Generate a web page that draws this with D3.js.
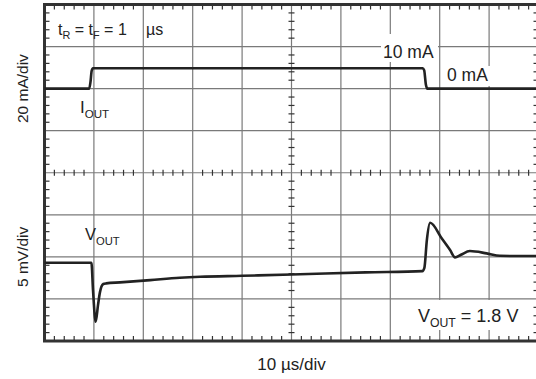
<!DOCTYPE html>
<html>
<head>
<meta charset="utf-8">
<script src="https://cdn.jsdelivr.net/npm/d3@7/dist/d3.min.js"></script>
<style>
  html, body { margin: 0; padding: 0; background: #fff; }
  svg { display: block; font-family: "Liberation Sans", Arial, Helvetica, sans-serif; }
</style>
</head>
<body>
<div id="chart"></div>
<script>
// scope shot data: time in microseconds, I_OUT in mA, V_OUT deviation in mV (0 = centre line)
const ioutTimeUs = [0, 9.05, 9.3, 9.55, 9.8, 76.55, 76.85, 77.2, 77.5, 100];
const ioutMA = [0, 0, 3, 8.5, 9.7, 9.7, 8.8, 2, 0, 0];

const voutTimeUs = [0, 9.5, 9.82, 10.36, 10.83, 11.23, 11.9, 12.5, 15.3, 21.4, 27.4, 31.5, 40, 50, 65,
  76.5, 76.9, 77.4, 78.05, 80.5, 82.1, 83.1, 84.3, 86.1, 89.5, 92.2, 96.3, 100];
const voutMV = [-10.7, -10.7, -13.95, -17.72, -15.73, -14.19, -13.23, -13.15, -13.03, -12.76, -12.49, -12.37, -12.25, -12.1, -11.84,
  -11.69, -11.3, -8.0, -5.95, -7.88, -9.19, -10.06, -9.75, -9.31, -9.58, -9.87, -9.9, -9.9];

const xDivs = 10;
const yDivs = 8;

const width = 536, height = 379;
const plotLeft = 44.5, plotRight = 538.5, plotTop = 4.5, plotBottom = 341;

const svg = d3.select('#chart').append('svg')
  .attr('width', width)
  .attr('height', height);

// scales
const x = d3.scaleLinear().domain([0, 100]).range([plotLeft, plotRight]);
const xDiv = d3.scaleLinear().domain([0, xDivs]).range([plotLeft, plotRight]);
const yDiv = d3.scaleLinear().domain([0, yDivs]).range([plotTop, plotBottom]);
// 20 mA/div, 0 mA sits two divisions below the top
const yI = d3.scaleLinear().domain([40, -120]).range([plotTop, plotBottom]);
// 5 mV/div around the centre line
const yV = d3.scaleLinear().domain([20, -20]).range([plotTop, plotBottom]);

const gridColor = '#7a7a7a';
const frameColor = '#333';

// grid lines
const grid = svg.append('g').attr('stroke', gridColor).attr('stroke-width', 1.2);
grid.selectAll('.vg')
  .data(d3.range(1, xDivs))
  .enter().append('line')
  .attr('x1', d => xDiv(d)).attr('x2', d => xDiv(d))
  .attr('y1', plotTop).attr('y2', plotBottom);
grid.selectAll('.hg')
  .data(d3.range(1, yDivs))
  .enter().append('line')
  .attr('x1', plotLeft).attr('x2', plotRight)
  .attr('y1', d => yDiv(d)).attr('y2', d => yDiv(d));

// minor ticks (5 per division)
const minorX = d3.range(0, xDivs * 5 + 1).map(d => d / 5).filter(d => d % 1 !== 0);
const minorY = d3.range(0, yDivs * 5 + 1).map(d => d / 5).filter(d => d % 1 !== 0);
const tickLen = 5;

const ticks = svg.append('g').attr('stroke', frameColor).attr('stroke-width', 1.2);
// top & bottom borders
ticks.selectAll('.tt').data(minorX).enter().append('line')
  .attr('x1', d => xDiv(d)).attr('x2', d => xDiv(d))
  .attr('y1', plotTop).attr('y2', plotTop + tickLen);
ticks.selectAll('.tb').data(minorX).enter().append('line')
  .attr('x1', d => xDiv(d)).attr('x2', d => xDiv(d))
  .attr('y1', plotBottom).attr('y2', plotBottom - tickLen);
// left & right borders
ticks.selectAll('.tl').data(minorY).enter().append('line')
  .attr('x1', plotLeft).attr('x2', plotLeft + tickLen)
  .attr('y1', d => yDiv(d)).attr('y2', d => yDiv(d));
ticks.selectAll('.tr').data(minorY).enter().append('line')
  .attr('x1', plotRight).attr('x2', plotRight - tickLen)
  .attr('y1', d => yDiv(d)).attr('y2', d => yDiv(d));
// centre cross axes
const cx = xDiv(xDivs / 2), cy = yDiv(yDivs / 2);
ticks.selectAll('.tch').data(minorX).enter().append('line')
  .attr('x1', d => xDiv(d)).attr('x2', d => xDiv(d))
  .attr('y1', cy - 3).attr('y2', cy + 3);
ticks.selectAll('.tcv').data(minorY).enter().append('line')
  .attr('x1', cx - 3).attr('x2', cx + 3)
  .attr('y1', d => yDiv(d)).attr('y2', d => yDiv(d));

// frame
svg.append('rect')
  .attr('x', plotLeft).attr('y', plotTop)
  .attr('width', plotRight - plotLeft).attr('height', plotBottom - plotTop)
  .attr('fill', 'none')
  .attr('stroke', frameColor)
  .attr('stroke-width', 3);

// white boxes behind annotations
const boxes = [
  [381, 34, 57, 28],
  [445, 66, 50, 20],
  [413, 300, 115, 30]
];
svg.selectAll('.box').data(boxes).enter().append('rect')
  .attr('x', d => d[0]).attr('y', d => d[1])
  .attr('width', d => d[2]).attr('height', d => d[3])
  .attr('fill', '#fff');

// traces
const lineI = d3.line()
  .x((d, i) => x(ioutTimeUs[i]))
  .y(d => yI(d))
  .curve(d3.curveMonotoneX);
const lineV = d3.line()
  .x((d, i) => x(voutTimeUs[i]))
  .y(d => yV(d))
  .curve(d3.curveMonotoneX);

svg.append('path')
  .attr('d', lineI(ioutMA))
  .attr('fill', 'none')
  .attr('stroke', '#222')
  .attr('stroke-width', 2.6)
  .attr('stroke-linejoin', 'round');

svg.append('path')
  .attr('d', lineV(voutMV))
  .attr('fill', 'none')
  .attr('stroke', '#222')
  .attr('stroke-width', 2.6)
  .attr('stroke-linejoin', 'round');

// labels
const txtColor = '#222';

function subText(g, xPos, yPos, size, parts) {
  const t = g.append('text')
    .attr('x', xPos).attr('y', yPos)
    .attr('font-size', size)
    .attr('fill', txtColor);
  parts.forEach(p => {
    const s = t.append('tspan')
      .attr('font-size', p.sub ? size * 0.68 : size)
      .attr('dy', p.dy || 0)
      .text(p.text);
    if (p.x !== undefined) s.attr('x', p.x);
  });
  return t;
}

subText(svg, 58, 35, 16, [
  {text: 't'}, {text: 'R', sub: true, dy: 3.5},
  {text: ' = t', dy: -3.5}, {text: 'F', sub: true, dy: 3.5},
  {text: ' = 1', dy: -3.5},
  {text: 'µs', x: 146}
]);

svg.append('text')
  .attr('x', 383).attr('y', 57.5)
  .attr('font-size', 17.5)
  .attr('fill', txtColor)
  .text('10 mA');

svg.append('text')
  .attr('x', 447).attr('y', 81)
  .attr('font-size', 17.5)
  .attr('fill', txtColor)
  .text('0 mA');

subText(svg, 80, 113, 17, [
  {text: 'I'}, {text: 'OUT', sub: true, dy: 4.5}
]);

subText(svg, 85, 240, 16.5, [
  {text: 'V'}, {text: 'OUT', sub: true, dy: 4.5}
]);

subText(svg, 418, 322, 18, [
  {text: 'V'}, {text: 'OUT', sub: true, dy: 4.5},
  {text: ' = 1.8 V', dy: -4.5}
]);

svg.append('text')
  .attr('transform', 'translate(28,' + yDiv(2) + ') rotate(-90)')
  .attr('text-anchor', 'middle')
  .attr('font-size', 15.5)
  .attr('fill', txtColor)
  .text('20 mA/div');

svg.append('text')
  .attr('transform', 'translate(28,' + yDiv(6) + ') rotate(-90)')
  .attr('text-anchor', 'middle')
  .attr('font-size', 15.5)
  .attr('fill', txtColor)
  .text('5 mV/div');

svg.append('text')
  .attr('x', cx).attr('y', 370)
  .attr('text-anchor', 'middle')
  .attr('font-size', 17)
  .attr('fill', txtColor)
  .text('10 µs/div');
</script>
</body>
</html>
